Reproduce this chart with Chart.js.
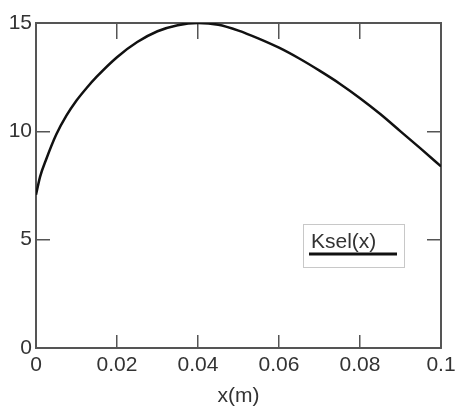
<!DOCTYPE html>
<html>
<head>
<meta charset="utf-8">
<script src="https://cdn.jsdelivr.net/npm/chart.js@4"></script>
<style>
  html, body { margin: 0; padding: 0; background: #fff; }
  canvas { display: block; }
</style>
</head>
<body>
<canvas id="chart" width="457" height="406"></canvas>
<script>
// values
const xValues = [0, 0.001, 0.0025, 0.005, 0.0075, 0.01, 0.0125, 0.015, 0.02, 0.025, 0.03, 0.035, 0.04,
                 0.045, 0.05, 0.055, 0.06, 0.065, 0.07, 0.075, 0.08, 0.085, 0.09, 0.095, 0.1];
const kselValues = [7.07, 7.9, 8.7, 9.85, 10.72, 11.42, 12.0, 12.52, 13.42, 14.12, 14.62, 14.9, 15.0,
                    14.92, 14.65, 14.28, 13.86, 13.36, 12.8, 12.2, 11.53, 10.8, 10.0, 9.2, 8.38];
const xTicks = [0, 0.02, 0.04, 0.06, 0.08, 0.1];
const xTickLabels = ['0', '0.02', '0.04', '0.06', '0.08', '0.1'];
const yTicks = [0, 5, 10, 15];
const yTickLabels = ['0', '5', '10', '15'];
const seriesLabel = 'Ksel(x)';
const xTitle = 'x(m)';

const axisColor = '#555';
const textColor = '#333';
const font = { family: 'Liberation Sans, Arial, sans-serif', size: 21 };

function setTicks(values) {
  return scale => { scale.ticks = values.map(v => ({ value: v })); };
}

// fixed box size, and no extra room asked for the edge labels
function fixSize(w, h) {
  return s => {
    if (w != null) s.width = w;
    if (h != null) s.height = h;
    s.paddingLeft = s.paddingRight = s.paddingTop = s.paddingBottom = 0;
  };
}

// custom legend: text with the line sample under it, in a light box
const boxLegend = {
  id: 'boxLegend',
  afterDraw(chart) {
    const ctx = chart.ctx;
    const ds = chart.data.datasets[0];
    ctx.save();
    ctx.strokeStyle = '#c8c8c8';
    ctx.lineWidth = 1;
    ctx.strokeRect(303.5, 224.5, 101, 43);
    ctx.fillStyle = textColor;
    ctx.font = '21px Liberation Sans, Arial, sans-serif';
    ctx.textBaseline = 'middle';
    ctx.textAlign = 'left';
    ctx.fillText(ds.label, 311, 242);
    ctx.strokeStyle = ds.borderColor;
    ctx.lineWidth = 3;
    ctx.beginPath();
    ctx.moveTo(309, 254);
    ctx.lineTo(397, 254);
    ctx.stroke();
    ctx.restore();
  }
};

new Chart(document.getElementById('chart').getContext('2d'), {
  type: 'scatter',
  data: {
    datasets: [{
      label: seriesLabel,
      data: xValues.map((x, i) => ({ x: x, y: kselValues[i] })),
      showLine: true,
      borderColor: '#111',
      borderWidth: 2.5,
      pointRadius: 0,
      cubicInterpolationMode: 'monotone'
    }]
  },
  options: {
    responsive: false,
    animation: false,
    layout: { padding: 0 },
    plugins: { legend: { display: false }, tooltip: { enabled: false } },
    scales: {
      x: {
        type: 'linear', position: 'bottom', min: 0, max: 0.1,
        afterBuildTicks: setTicks(xTicks),
        afterFit: fixSize(null, 58),
        grid: { drawOnChartArea: false, tickLength: -13, color: axisColor, lineWidth: 1.5 },
        border: { color: axisColor, width: 2 },
        ticks: {
          autoSkip: false, maxRotation: 0, padding: 18, color: textColor, font: font,
          callback: (v, i) => xTickLabels[i]
        },
        title: { display: true, text: xTitle, color: textColor,
                 font: { family: font.family, size: 21 }, padding: { top: 0, bottom: -3 } }
      },
      x2: {
        type: 'linear', position: 'top', min: 0, max: 0.1,
        afterBuildTicks: setTicks(xTicks),
        afterFit: fixSize(null, 23),
        grid: { drawOnChartArea: false, tickLength: -16, color: axisColor, lineWidth: 1.5 },
        border: { color: axisColor, width: 2 },
        ticks: { display: false }
      },
      y: {
        type: 'linear', position: 'left', min: 0, max: 15,
        afterBuildTicks: setTicks(yTicks),
        afterFit: fixSize(36, null),
        grid: { drawOnChartArea: false, tickLength: -14, color: axisColor, lineWidth: 1.5 },
        border: { color: axisColor, width: 2 },
        ticks: {
          padding: 18, color: textColor, font: font,
          callback: (v, i) => yTickLabels[i]
        }
      },
      y2: {
        type: 'linear', position: 'right', min: 0, max: 15,
        afterBuildTicks: setTicks(yTicks),
        afterFit: fixSize(16, null),
        grid: { drawOnChartArea: false, tickLength: -14, color: axisColor, lineWidth: 1.5 },
        border: { color: axisColor, width: 2 },
        ticks: { display: false }
      }
    }
  },
  plugins: [boxLegend]
});
</script>
</body>
</html>
